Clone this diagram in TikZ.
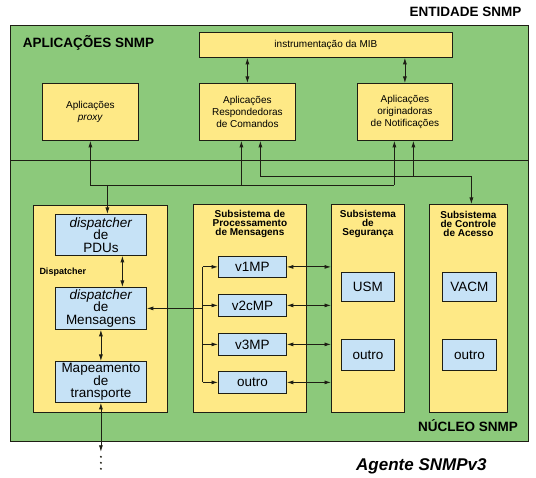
\documentclass[tikz,border=0pt]{standalone}
\usepackage{fontspec}
\setmainfont{Liberation Sans}
\usetikzlibrary{arrows.meta}
\definecolor{grn}{HTML}{8CC97B}
\definecolor{ylw}{HTML}{FEE986}
\definecolor{blu}{HTML}{C6E2F6}
\definecolor{ink}{HTML}{1E1E14}
\begin{document}
\begin{tikzpicture}[x=1pt,y=-1pt,
  gbox/.style={draw=ink, fill=grn, line width=0.9pt, inner sep=0pt, anchor=north west},
  ybox/.style={draw=ink, fill=ylw, line width=0.8pt, inner sep=0pt, anchor=north west, align=center},
  bbox/.style={draw=ink, fill=blu, line width=0.8pt, inner sep=0pt, anchor=north west, align=center, font=\fontsize{13.5}{12.6}\selectfont},
  app/.style={ybox, font=\fontsize{10}{12.2}\selectfont},
  ttl/.style={font=\bfseries\fontsize{10}{9.3}\selectfont, align=center, inner sep=0pt},
  big/.style={font=\bfseries\fontsize{13.5}{14}\selectfont, inner sep=0pt},
  conn/.style={draw=ink, line width=0.8pt},
  arr/.style={conn, -{Latex[length=6.5pt,width=4pt]}},
  dbl/.style={conn, {Latex[length=6.5pt,width=4pt]}-{Latex[length=6.5pt,width=4pt]}},
]
\useasboundingbox (0,0) rectangle (536,478);

% outer entity
\node[gbox, minimum width=518, minimum height=416] (ent) at (10,25) {};
\coordinate (div) at (0,160.5);
\draw[conn, line width=0.9pt] (ent.west |- div) -- (ent.east |- div);

\node[big, anchor=east] (entl) at (521.5,12) {ENTIDADE SNMP};
\node[big, anchor=base west] (apl) at (22.7,47.8) {APLICAÇÕES SNMP};
\node[big, anchor=base east] (nucl) at (518,431.8) {NÚCLEO SNMP};
\node[font=\bfseries\itshape\fontsize{17}{18}\selectfont, inner sep=0pt, anchor=base west] (agente) at (356,471) {Agente SNMPv3};

% applications
\node[app, minimum width=253, minimum height=25] (mib) at (199,32) {instrumentação da MIB};
\node[app, minimum width=96, minimum height=57] (proxy) at (42,83) {Aplicações\\\textit{proxy}};
\node[app, minimum width=96, minimum height=57] (resp) at (199,83) {Aplicações\\Respondedoras\\de Comandos};
\node[app, minimum width=95, minimum height=57] (orig) at (357,83) {Aplicações\\originadoras\\de Notificações};

\draw[dbl] (mib.south -| resp.north) -- (resp.north);
\draw[dbl] (mib.south -| orig.north) -- (orig.north);

% core subsystems
\node[ybox, minimum width=134, minimum height=207] (disp) at (33,205) {};
\node[bbox, minimum width=91, minimum height=41] (pdus) at (55,214) {\textit{dispatcher}\\de\\PDUs};
\node[bbox, minimum width=91, minimum height=42] (mens) at (55,287) {\textit{dispatcher}\\de\\Mensagens};
\node[bbox, minimum width=91, minimum height=41] (map) at (55,361) {Mapeamento\\de\\transporte};
\node[font=\bfseries\fontsize{9}{10}\selectfont, inner sep=0pt, anchor=base west] (dlab) at (39.3,274.2) {Dispatcher};

\node[ybox, minimum width=113, minimum height=208] (proc) at (193,204) {};
\node[ttl] (proct) at ([yshift=-20pt]proc.north) {Subsistema de\\Processamento\\de Mensagens};
\node[bbox, minimum width=68, minimum height=21] (v1) at (218,256) {v1MP};
\node[bbox, minimum width=68, minimum height=22] (v2) at (218,294) {v2cMP};
\node[bbox, minimum width=68, minimum height=22] (v3) at (218,333) {v3MP};
\node[bbox, minimum width=68, minimum height=22] (om) at (218,371) {outro};

\node[ybox, minimum width=73, minimum height=208] (seg) at (331,204) {};
\node[ttl] (segt) at ([yshift=-20pt]seg.north) {Subsistema\\de\\Segurança};
\node[bbox, minimum width=53, minimum height=29] (usm) at (341,272) {USM};
\node[bbox, minimum width=53, minimum height=31] (os) at (341,339) {outro};

\node[ybox, minimum width=78, minimum height=208] (acc) at (429,204) {};
\node[ttl] (acct) at ([yshift=-20pt]acc.north) {Subsistema\\de Controle\\de Acesso};
\node[bbox, minimum width=54, minimum height=29] (vacm) at (442,272) {VACM};
\node[bbox, minimum width=54, minimum height=31] (oa) at (442,339) {outro};

% buses between applications and core
\coordinate (busA) at (0,185);
\coordinate (busB) at (0,176);
\coordinate (r1) at ([xshift=-6pt]resp.south);
\coordinate (r2) at ([xshift=13pt]resp.south);
\coordinate (o1) at ([xshift=-10.5pt]orig.south);
\coordinate (o2) at ([xshift=8.5pt]orig.south);
\coordinate (pd) at ([xshift=6.5pt]pdus.north);
\coordinate (ac) at ([xshift=3pt]acc.north);

\draw[conn] (proxy.south |- busA) -- (o1 |- busA);
\draw[arr] (proxy.south |- busA) -- (proxy.south);
\draw[arr] (r1 |- busA) -- (r1);
\draw[arr] (o1 |- busA) -- (o1);
\draw[arr] (pd |- busA) -- (pd);
\draw[conn] (r2 |- busB) -- (ac |- busB);
\draw[arr] (r2 |- busB) -- (r2);
\draw[arr] (o2 |- busB) -- (o2);
\draw[arr] (ac |- busB) -- (ac);

% dispatcher internals
\coordinate (p2) at ([xshift=21.5pt]pdus.south);
\draw[dbl] (p2) -- (p2 |- mens.north);
\draw[dbl] (mens.south) -- (map.north);
\coordinate (ext) at ([yshift=-49pt]map.south);
\draw[dbl] (map.south) -- (ext);
\fill[ink] ([yshift=-5pt]ext) circle (1.1pt);
\fill[ink] ([yshift=-11pt]ext) circle (1.1pt);
\fill[ink] ([yshift=-17pt]ext) circle (1.1pt);

% message processing bracket
\coordinate (bx) at ([xshift=9.5pt]proc.west);
\draw[conn] (bx |- v1.west) -- (bx |- om.west);
\draw[arr] (bx |- mens.east) -- (mens.east);
\draw[arr] (bx |- v1.west) -- (v1.west);
\draw[arr] (bx |- v2.west) -- (v2.west);
\draw[arr] (bx |- v3.west) -- (v3.west);
\draw[arr] (bx |- om.west) -- (om.west);

% MP to security
\draw[dbl] (v1.east) -- (v1.east -| seg.west);
\draw[dbl] (v2.east) -- (v2.east -| seg.west);
\draw[dbl] (v3.east) -- (v3.east -| seg.west);
\draw[dbl] (om.east) -- (om.east -| seg.west);
\end{tikzpicture}
\end{document}
